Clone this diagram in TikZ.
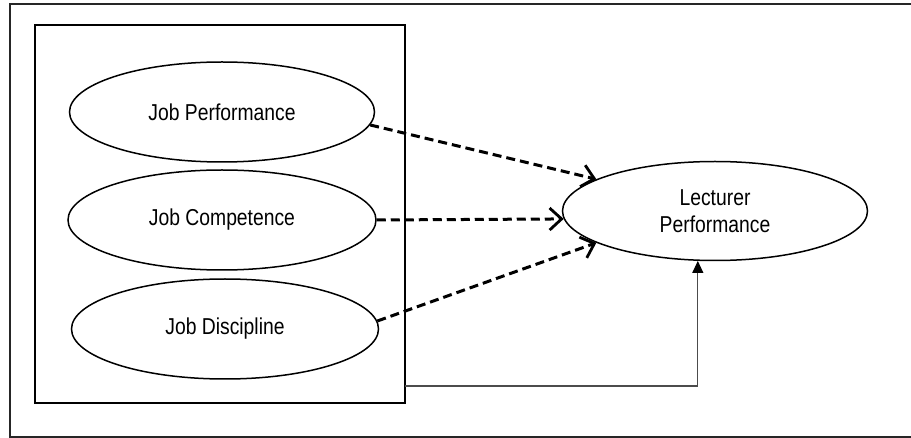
\documentclass[tikz,border=0pt]{standalone}
\usepackage{fontspec}
\setmainfont{Liberation Sans}[FakeStretch=0.84]
\usetikzlibrary{shapes.geometric,arrows.meta}

\begin{document}
\begin{tikzpicture}[x=1pt,y=-1pt,
        var/.style={draw,ellipse,line width=1.5pt,minimum width=305pt,minimum height=100pt,inner sep=0pt,
            font=\fontsize{23}{27}\selectfont,align=center},
        effect/.style={line width=3pt,dash pattern=on 9pt off 5pt,
            -{Straight Barb[length=12pt,width=22pt,line width=2.8pt]}},
        link/.style={line width=1.1pt,draw=black!70,-{Triangle[length=12pt,width=11pt,black]}}]
        \useasboundingbox (0,0) rectangle (911,438);

        % Frames
        \draw[line width=1.6pt,draw=black!85] (10,4) rectangle (925,437);
        \node[draw,line width=1.8pt,minimum width=370pt,minimum height=378pt,inner sep=0pt] (grp) at (220,214) {};

        % Variables
        \node[var] (jp) at (222,112) {Job Performance};
        \node[var,minimum width=308pt] (jc) at (222,220) {Job Competence};
        \node[var,minimum width=307pt] (jd) at (225,329) {Job Discipline};
        \node[var,minimum height=99pt] (lp) at (715,211) {Lecturer\\Performance};

        % Dashed effects on lecturer performance
        \draw[effect] (jp.-5) -- (lp.165);
        \draw[effect] (jc.east) -- (lp.183);
        \draw[effect] (jd.3) -- (lp.195);

        % Joint effect from the group
        \coordinate (grpout) at (405,386);
        \draw[link] (grpout) -| (lp.251);
    \end{tikzpicture}
\end{document}
